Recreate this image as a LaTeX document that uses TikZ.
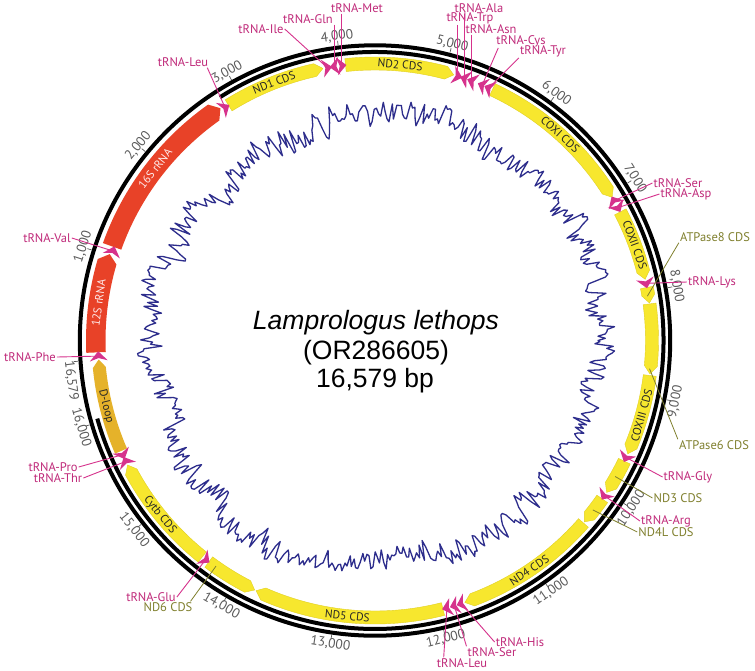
\documentclass[tikz,border=0pt]{standalone}
\usepackage{fontspec}
\setmainfont{PT Sans}
\newfontfamily\arialf{Liberation Sans}
\definecolor{cdsY}{RGB}{247,231,46}
\definecolor{cdsYd}{RGB}{225,208,35}
\definecolor{rrnaR}{RGB}{232,66,40}
\definecolor{dloopG}{RGB}{229,178,42}
\definecolor{trnaM}{RGB}{214,50,140}
\definecolor{trnaT}{RGB}{192,42,122}
\definecolor{cdsO}{RGB}{128,128,46}
\definecolor{tickG}{RGB}{90,90,90}
\definecolor{gcN}{RGB}{45,45,140}
\tikzset{
  tlab/.style={font=\fontsize{12.5}{13}\selectfont, text=trnaT, inner sep=1pt},
  clab/.style={font=\fontsize{12.5}{13}\selectfont, text=cdsO, inner sep=1pt},
  tline/.style={draw=trnaM, line width=0.9pt},
  cline/.style={draw=cdsO, line width=0.8pt},
  ticklab/.style={font=\fontsize{13.5}{14}\selectfont, text=tickG, inner sep=0pt},
  glab/.style={font=\fontsize{11.5}{12}\selectfont, text=black!85, inner sep=0pt},
  gc/.style={draw=gcN, line width=1.3pt, line join=round},
  cds/.style={fill=cdsY, draw=cdsYd, line width=0.4pt},
  rrna/.style={fill=rrnaR},
  dloop/.style={fill=dloopG},
  ring/.style={draw=black, line width=4pt},
  ctext/.style={font=\arialf\fontsize{26.5}{29}\selectfont, inner sep=0pt},
}
\def\mtRi{270.5}\def\mtRm{277}\def\mtRo{283.5}
\newcommand\mtang[2]{\pgfmathsetmacro#1{-176-0.0225*\the\numexpr(#2)*16000/16579\relax}}
\newcommand\mtfwd[3]{%
  \mtang\mtA{#1}\mtang\mtB{#2}%
  \pgfmathsetmacro\mtC{\mtB+1.65}%
  \path[#3] (\mtA:\mtRi) arc[start angle=\mtA, end angle=\mtC, radius=\mtRi pt] -- (\mtB:\mtRm) -- (\mtC:\mtRo) arc[start angle=\mtC, end angle=\mtA, radius=\mtRo pt] -- cycle;}
\newcommand\mtrev[3]{%
  \mtang\mtA{#1}\mtang\mtB{#2}%
  \pgfmathsetmacro\mtC{\mtA-1.65}%
  \path[#3] (\mtB:\mtRi) arc[start angle=\mtB, end angle=\mtC, radius=\mtRi pt] -- (\mtA:\mtRm) -- (\mtC:\mtRo) arc[start angle=\mtC, end angle=\mtB, radius=\mtRo pt] -- cycle;}
\newcommand\mttf[3]{%
  \mtang\mtA{#1}\mtang\mtB{#2}%
  \pgfmathsetmacro\mtP{\mtA+0.25}%
  \pgfmathsetmacro\mtQ{\mtB-0.25}%
  \pgfmathsetmacro\mtN{\mtP-0.3*(\mtP-\mtQ)}%
  \pgfmathsetmacro\mtM{(\mtA+\mtB)/2}%
  \fill[trnaM] (\mtP:286) -- (\mtQ:277) -- (\mtP:268) -- (\mtN:277) -- cycle;
  \coordinate (#3) at (\mtM:277);}
\newcommand\mttr[3]{%
  \mtang\mtA{#1}\mtang\mtB{#2}%
  \pgfmathsetmacro\mtP{\mtA+0.25}%
  \pgfmathsetmacro\mtQ{\mtB-0.25}%
  \pgfmathsetmacro\mtN{\mtQ+0.3*(\mtP-\mtQ)}%
  \pgfmathsetmacro\mtM{(\mtA+\mtB)/2}%
  \fill[trnaM] (\mtQ:286) -- (\mtP:277) -- (\mtQ:268) -- (\mtN:277) -- cycle;
  \coordinate (#3) at (\mtM:277);}
\newcommand\mtglab[5]{%
  \mtang\mtA{#1}%
  \pgfmathsetmacro\mtR{sin(\mtA)>0 ? \mtA-90 : \mtA+90}%
  \node[glab,#3,rotate=\mtR] (#4) at (\mtA:#5) {#2};}
\newcommand\mtcoord[2]{\mtang\mtA{#1}\coordinate (#2) at (\mtA:276);}
\begin{document}
\begin{tikzpicture}[x=1pt,y=1pt]
\fill[white] (0,0) rectangle (755,-670);
\useasboundingbox (0,0) rectangle (755,-670);
\begin{scope}[shift={(375,-340.5)}]
  % GC plot
  \pgfmathsetseed{2024}
  \xdef\gcv{0}\xdef\gcw{0}
  \xdef\gcpath{(0:223)}
  \foreach \i in {1,...,654}{
    \pgfmathsetmacro\gcn{0.3*\gcv+12*rand}
    \xdef\gcv{\gcn}
    \pgfmathsetmacro\gcm{0.92*\gcw+3*rand}
    \xdef\gcw{\gcm}
    \pgfmathsetmacro\gca{\i*0.55}
    \pgfmathsetmacro\gcr{223+\gcv+\gcw+4*sin(2*\gca+40)+3*sin(5*\gca+10)}
    \xdef\gcpath{\gcpath -- (\gca:\gcr)}
  }
  \edef\gcdraw{\noexpand\draw[gc] \gcpath -- cycle;}
  \gcdraw
  % rings
  \draw[ring] (0,0) circle[radius=295.2pt];
  \mtang\ia{2830}\mtang\ib{16035}
  \draw[ring] (\ia:288.5) arc[start angle=\ia, end angle=\ib, radius=288.5pt];
  % ticks
  \foreach \p/\tx in {1000/{1,000},2000/{2,000},3000/{3,000},4000/{4,000},5000/{5,000},6000/{6,000},7000/{7,000},8000/{8,000},9000/{9,000},10000/{10,000},11000/{11,000},12000/{12,000},13000/{13,000},14000/{14,000},15000/{15,000},16000/{16,000}}{
    \mtang\ta{\p}
    \pgfmathsetmacro\trot{sin(\ta)>0 ? \ta-90 : \ta+90}
    \draw[tickG, line width=0.7pt] (\ta:297.5) -- (\ta:302);
    \node[ticklab, rotate=\trot] (tk\p) at (\ta:306.5) {\tx};
  }
  \draw[tickG, line width=0.7pt] (-176:297.5) -- (-176:302);
  \node[ticklab, rotate=-82.7] (tkEnd) at (-172.4:306.5) {16,579};
  % rRNA genes (wider band)
  \def\mtRi{269.5}\def\mtRm{279}\def\mtRo{289}
  \mtfwd{72}{1014}{rrna}
  \mtfwd{1091}{2779}{rrna}
  \def\mtRi{270.5}\def\mtRm{277}\def\mtRo{283.5}
  % other genes
  \mtfwd{2859}{3829}{cds}
  \mtfwd{4046}{5088}{cds}
  \mtfwd{5482}{7038}{cds}
  \mtfwd{7197}{7883}{cds}
  \mtfwd{7963}{8112}{cds}
  \mtfwd{8122}{8790}{cds}
  \mtfwd{8806}{9583}{cds}
  \mtfwd{9660}{10002}{cds}
  \mtfwd{10077}{10355}{cds}
  \mtfwd{10368}{11743}{cds}
  \mtfwd{11961}{13785}{cds}
  \mtrev{13800}{14313}{cds}
  \mtfwd{14392}{15528}{cds}
  \mtfwd{15675}{16577}{dloop}
  % tRNAs
  \mttf{1}{69}{tPhe}
  \mttf{1017}{1088}{tVal}
  \mttf{2782}{2856}{tLeuA}
  \mttf{3836}{3905}{tIle}
  \mttr{3905}{3975}{tGln}
  \mttf{3975}{4043}{tMet}
  \mttf{5091}{5162}{tTrp}
  \mttr{5164}{5232}{tAla}
  \mttr{5234}{5306}{tAsn}
  \mttr{5343}{5409}{tCys}
  \mttr{5410}{5478}{tTyr}
  \mttr{7041}{7111}{tSerA}
  \mttf{7115}{7187}{tAsp}
  \mttf{7886}{7959}{tLys}
  \mttf{9586}{9657}{tGly}
  \mttf{10006}{10074}{tArg}
  \mttf{11746}{11814}{tHis}
  \mttf{11815}{11881}{tSerB}
  \mttf{11886}{11958}{tLeuB}
  \mttr{14316}{14384}{tGlu}
  \mttf{15531}{15602}{tThr}
  \mttr{15603}{15672}{tPro}
  % CDS pointer coordinates
  \mtcoord{8045}{cA8}
  \mtcoord{8741}{cA6}
  \mtcoord{9830}{cND3}
  \mtcoord{10215}{cND4L}
  \mtcoord{14234}{cND6}
  % gene labels
  \mtglab{3344}{ND1 CDS}{}{gND1}{277}
  \mtglab{4567}{ND2 CDS}{}{gND2}{277}
  \mtglab{6260}{COXI CDS}{}{gCOI}{277}
  \mtglab{7540}{COXII CDS}{}{gCOII}{277}
  \mtglab{9193}{COXIII CDS}{}{gCOIII}{277}
  \mtglab{11055}{ND4 CDS}{}{gND4}{277}
  \mtglab{12878}{ND5 CDS}{}{gND5}{277}
  \mtglab{14960}{Cytb CDS}{}{gCytb}{277}
  \mtglab{16126}{D-loop}{}{gDl}{277}
  \mtglab{543}{12S rRNA}{text=white!92!red}{g12S}{279}
  \mtglab{1935}{16S rRNA}{text=white!92!red}{g16S}{279}
\end{scope}
% centre text
\node[ctext] (cT1) at (376,-323) {\itshape Lamprologus lethops};
\node[ctext] (cT2) at (376,-353) {(OR286605)};
\node[ctext] (cT3) at (375,-381) {16,579 bp};
% tRNA labels
\node[tlab] (lLeuA) at (183,-62) {tRNA-Leu};
\node[tlab] (lIle) at (261,-29) {tRNA-Ile};
\node[tlab] (lGln) at (308,-19) {tRNA-Gln};
\node[tlab] (lMet) at (357,-8) {tRNA-Met};
\node[tlab] (lAla) at (479,-8) {tRNA-Ala};
\node[tlab] (lTrp) at (470,-18) {tRNA-Trp};
\node[tlab] (lAsn) at (491,-29) {tRNA-Asn};
\node[tlab] (lCys) at (521,-41) {tRNA-Cys};
\node[tlab] (lTyr) at (543,-51) {tRNA-Tyr};
\node[tlab] (lSerA) at (678,-183) {tRNA-Ser};
\node[tlab] (lAsp) at (686,-194) {tRNA-Asp};
\node[tlab] (lLys) at (712,-282) {tRNA-Lys};
\node[tlab] (lGly) at (688,-477) {tRNA-Gly};
\node[tlab] (lArg) at (666,-521) {tRNA-Arg};
\node[tlab] (lHis) at (520,-642) {tRNA-His};
\node[tlab] (lSerB) at (492,-652) {tRNA-Ser};
\node[tlab] (lLeuB) at (462,-663) {tRNA-Leu};
\node[tlab] (lGlu) at (151,-597) {tRNA-Glu};
\node[tlab] (lPro) at (53,-467) {tRNA-Pro};
\node[tlab] (lThr) at (58,-478) {tRNA-Thr};
\node[tlab] (lVal) at (47,-238) {tRNA-Val};
\node[tlab] (lPhe) at (30,-357) {tRNA-Phe};
% CDS labels
\node[clab] (lA8) at (715,-237) {ATPase8 CDS};
\node[clab] (lA6) at (714,-445) {ATPase6 CDS};
\node[clab] (lND3) at (678,-498) {ND3 CDS};
\node[clab] (lND4L) at (666,-532) {ND4L CDS};
\node[clab] (lND6) at (168,-607) {ND6 CDS};
% leader lines
\draw[tline] ([xshift=-2pt]lLeuA.south east) -- (tLeuA);
\draw[tline] (lIle.east) -- (tIle);
\draw[tline] (tGln |- lGln.south) -- (tGln);
\draw[tline] (tMet |- lMet.south) -- (tMet);
\draw[tline] (tAla |- lAla.south) -- (tAla);
\draw[tline] (tTrp |- lTrp.south) -- (tTrp);
\draw[tline] (tAsn |- lAsn.south) -- (tAsn);
\draw[tline] ([xshift=3pt]lCys.south west) -- (tCys);
\draw[tline] (lTyr.south west) -- (tTyr);
\draw[tline] (lSerA.west) -- (tSerA);
\draw[tline] (lAsp.west) -- (tAsp);
\draw[tline] (lLys.west) -- (tLys);
\draw[tline] (lGly.west) -- (tGly);
\draw[tline] (lArg.west) -- (tArg);
\draw[tline] (lHis.west) -- (tHis);
\draw[tline] (lSerB.north west) -- (tSerB);
\draw[tline] ([xshift=8pt]lLeuB.north west) -- (tLeuB);
\draw[tline] (lGlu.east) -- (tGlu);
\draw[tline] (lPro.east) -- (tPro);
\draw[tline] (lThr.east) -- (tThr);
\draw[tline] (lVal.east) -- (tVal);
\draw[tline] (lPhe.east) -- (tPhe);
\draw[cline] (lA8.south west) -- (cA8);
\draw[cline] (lA6.north west) -- (cA6);
\draw[cline] (lND3.west) -- (cND3);
\draw[cline] (lND4L.west) -- (cND4L);
\draw[cline] ([xshift=-3pt]lND6.north east) -- (cND6);
\end{tikzpicture}
\end{document}
